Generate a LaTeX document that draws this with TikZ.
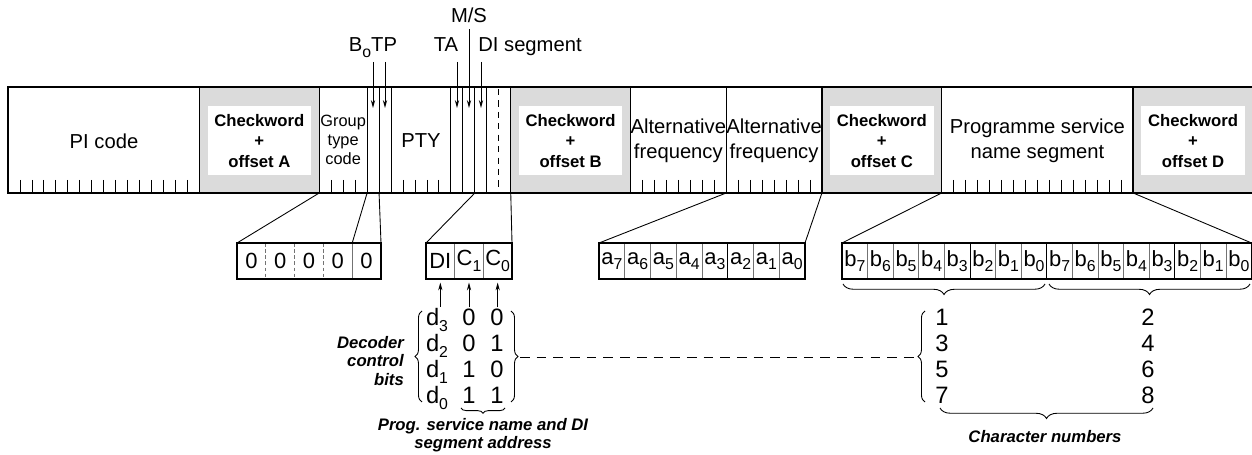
\documentclass[tikz,border=0pt]{standalone}
\usepackage{fontspec}
\setmainfont{Liberation Sans}
\usepackage{tikz}
\usetikzlibrary{arrows.meta,positioning,calc,decorations.pathreplacing}

\definecolor{cwgray}{gray}{0.86}
\definecolor{divgray}{gray}{0.45}

% x position (px) of a bit boundary in the block bar
\newcommand{\bx}[1]{8+11.97*(#1)}
\newcommand{\lowsub}[1]{\raisebox{-3.2pt}{\fontsize{9}{9}\selectfont #1}}

\begin{document}
\begin{tikzpicture}[x=0.02cm,y=-0.02cm,
    bar/.style={line width=0.8pt},
    fine/.style={line width=0.5pt},
    lbl/.style={font=\fontsize{11.5}{14}\selectfont,align=center},
    small/.style={font=\fontsize{9.3}{11}\selectfont,align=center,inner sep=0pt},
    cw/.style={font=\bfseries\fontsize{9.5}{11.5}\selectfont,align=center},
    cell/.style={minimum width=#1,minimum height=0.72cm,inner sep=0pt,outer sep=0pt,font=\fontsize{12.5}{14}\selectfont},
    num/.style={font=\fontsize{13.5}{15}\selectfont,inner sep=1pt,anchor=base},
    note/.style={font=\bfseries\itshape\fontsize{9.5}{10.5}\selectfont,align=center},
    ptr/.style={fine,-{Stealth[length=4.5pt,width=2.4pt]}},
    brc/.style={decorate,decoration={brace,amplitude=4pt},fine}]

\useasboundingbox (0,0) rectangle (1252,455);
\clip (0,0) rectangle (1252,455);

% Checkword blocks
\foreach \s/\l in {16/A,42/B,68/C,94/D} {
    \filldraw[bar,fill=cwgray] ({\bx{\s}},87) rectangle ({\bx{\s+10}},193);
    \fill[white] ({\bx{\s}+8},106) rectangle ({\bx{\s+10}-8},175);
    \node[cw] (cw\l) at ({\bx{\s+5}},141) {Checkword\\+\\offset \l};
}

% Block bar
\foreach \k in {26,30,31,32,37,38,39,40,52,60,78}
    \draw[fine] ({\bx{\k}},87) -- ({\bx{\k}},193);
\draw[fine,dash pattern=on 3.5pt off 3pt] ({\bx{41}},89) -- ({\bx{41}},193);
\foreach \k in {1,...,15}
    \draw[fine] ({\bx{\k}},180) -- ({\bx{\k}},193);
\foreach \k in {27,28,29,33,34,35,36}
    \draw[fine] ({\bx{\k}},180) -- ({\bx{\k}},193);
\foreach \k in {53,...,59}
    \draw[fine] ({\bx{\k}},180) -- ({\bx{\k}},193);
\foreach \k in {61,...,67}
    \draw[fine] ({\bx{\k}},180) -- ({\bx{\k}},193);
\foreach \k in {79,...,93}
    \draw[fine] ({\bx{\k}},180) -- ({\bx{\k}},193);
\draw[bar] (8,87) rectangle (1256,193);

% Segment labels
\node[lbl] (pi) at (104,141) {PI code};
\node[small] (gtc) at ({\bx{28}},140) {Group\\type\\code};
\node[lbl] (pty) at ({\bx{34.5}},141) {PTY};
\node[lbl] (af1) at ({\bx{56}},141) {Alternative\\frequency};
\node[lbl] (af2) at ({\bx{64}},141) {Alternative\\frequency};
\node[lbl] (psseg) at ({\bx{86}},141) {Programme service\\name segment};

% Flag labels and pointers
\node[lbl,anchor=base] (botp) at (373,52) {B\lowsub{o}TP};
\node[lbl,anchor=base] (ta) at (446,52) {TA};
\node[lbl,anchor=base] (ms) at (469,23) {M/S};
\node[lbl,anchor=base west,inner xsep=0pt] (dis) at (478,52) {DI segment};
\foreach \n/\x in {b0/373,tp/385,ta/457,mi/469,di/481}
    \coordinate (\n-in) at (\x,108);
\foreach \n/\x in {b0/373,tp/385,ta/457,di/481} {
    \coordinate (\n-out) at (\x,62);
    \draw[ptr] (\n-out) -- (\n-in);
}
\draw[ptr] (ms.south) -- (mi-in);

% Group type code bits
\foreach \i in {1,...,5}
    \node[cell=0.576cm] (gbit\i) at ({237+28.8*(\i-0.5)},261) {0};
\foreach \i in {2,3,4}
    \draw[fine,divgray,dash pattern=on 2pt off 1.5pt] (gbit\i.north west) -- (gbit\i.south west);
\draw[fine,divgray] (gbit5.north west) -- (gbit5.south west);
\draw[bar] (gbit1.north west) rectangle (gbit5.south east);

% DI and segment address bits
\foreach \t [count=\i] in {DI,C\lowsub{1},C\lowsub{0}}
    \node[cell=0.5733cm] (dbit\i) at ({426+28.67*(\i-0.5)},261) {\t};
\foreach \i in {2,3}
    \draw[fine,divgray] (dbit\i.north west) -- (dbit\i.south west);
\draw[bar] (dbit1.north west) rectangle (dbit3.south east);

% Alternative frequency bits
\foreach \n [count=\i] in {7,6,5,4,3,2,1,0}
    \node[cell=0.515cm] (abit\i) at ({599+25.75*(\i-0.5)},261) {a\lowsub{\n}};
\foreach \i in {2,3,4,5,7,8}
    \draw[fine,divgray] (abit\i.north west) -- (abit\i.south west);
\draw[fine] (abit6.north west) -- (abit6.south west);
\draw[bar] (abit1.north west) rectangle (abit8.south east);

% Programme service name bits
\foreach \n [count=\i] in {7,6,5,4,3,2,1,0,7,6,5,4,3,2,1,0}
    \node[cell=0.512cm] (bbit\i) at ({842+25.6*(\i-0.5)},261) {b\lowsub{\n}};
\foreach \i in {2,3,4,5,7,8,10,11,12,13,15,16}
    \draw[fine,divgray] (bbit\i.north west) -- (bbit\i.south west);
\foreach \i in {6,9,14}
    \draw[fine] (bbit\i.north west) -- (bbit\i.south west);
\draw[bar] (bbit1.north west) rectangle (bbit16.south east);

% Expansion lines
\coordinate (gt-l) at ({\bx{26}},193);
\coordinate (gt-r) at ({\bx{30}},193);
\coordinate (b0-r) at ({\bx{31}},193);
\coordinate (di-l) at ({\bx{39}},193);
\coordinate (c0-r) at ({\bx{42}},193);
\coordinate (af-l) at ({\bx{60}},193);
\coordinate (af-r) at ({\bx{68}},193);
\coordinate (ps-l) at ({\bx{78}},193);
\coordinate (ps-r) at ({\bx{94}},193);
\draw[fine] (gt-l) -- (gbit1.north west);
\draw[fine] (gt-r) -- (gbit5.north west);
\draw[fine] (b0-r) -- (gbit5.north east);
\draw[fine] (di-l) -- (dbit1.north west);
\draw[fine] (c0-r) -- (dbit3.north east);
\draw[fine] (af-l) -- (abit1.north west);
\draw[fine] (af-r) -- (abit8.north east);
\draw[fine] (ps-l) -- (bbit1.north west);
\draw[fine] (ps-r) -- (bbit16.north east);

% Decoder control bits
\foreach \r/\p/\q [count=\i from 0] in {3/0/0,2/0/1,1/1/0,0/1/1} {
    \node[num] (dk\r) at (437,{326+26*\i}) {d\lowsub{\r}};
    \node[num] (pk\r) at (469,{326+26*\i}) {\p};
    \node[num] (qk\r) at (497,{326+26*\i}) {\q};
}
\draw[ptr,shorten >=2pt] (dk3.north -| dbit1.south) -- (dbit1.south);
\draw[ptr,shorten >=2pt] (pk3.north -| dbit2.south) -- (dbit2.south);
\draw[ptr,shorten >=2pt] (qk3.north -| dbit3.south) -- (dbit3.south);
\draw[brc] (422,402) -- (422,311);
\draw[brc] (511,311) -- (511,402);
\draw[brc,decoration={amplitude=3pt}] (505,408) -- (461,408);
\node[note,align=right,anchor=east] (dcb) at (410,361) {Decoder\\control\\bits};
\node[note] (psa) at (483,435) {Prog. service name and DI\\segment address};

% Character numbers
\draw[brc,decoration={amplitude=6pt}] (1045,284) -- (843,284);
\draw[brc,decoration={amplitude=6pt}] (1250,284) -- (1049,284);
\foreach \l/\r [count=\i from 0] in {1/2,3/4,5/6,7/8} {
    \node[num] (cl\l) at (942,{326+26*\i}) {\l};
    \node[num] (cr\r) at (1148,{326+26*\i}) {\r};
}
\draw[brc] (925,402) -- (925,311);
\draw[brc,decoration={amplitude=6pt}] (1153,408) -- (940,408);
\node[note] (chn) at (1045,437) {Character numbers};

% Link between the two tables
\coordinate (mat-tip) at (520,357);
\coordinate (num-tip) at (917,357);
\draw[fine,dash pattern=on 5.5pt off 4pt] (mat-tip) -- (num-tip);
\end{tikzpicture}
\end{document}
